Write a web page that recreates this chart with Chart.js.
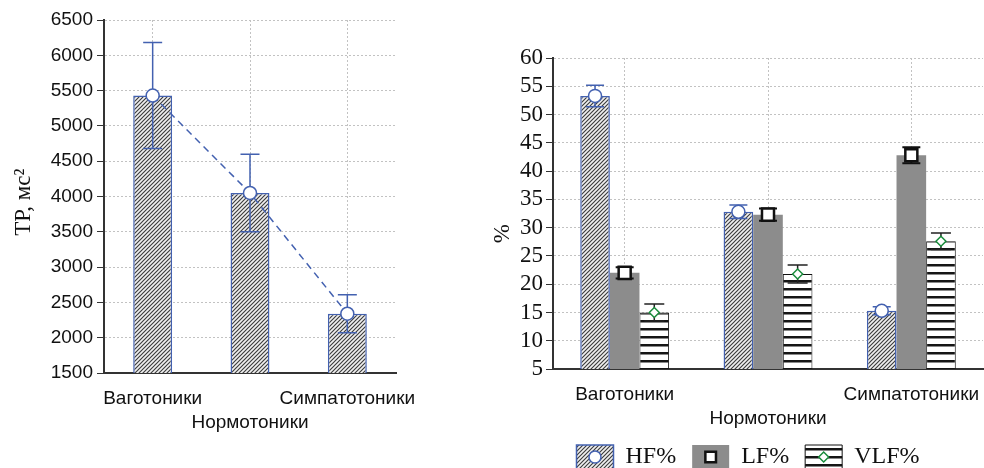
<!DOCTYPE html>
<html>
<head>
<meta charset="utf-8">
<script src="https://cdn.jsdelivr.net/npm/chart.js@4.4.0/dist/chart.umd.min.js"></script>
<style>
  html, body { margin: 0; padding: 0; background: #fff; overflow: hidden; width: 984px; height: 468px; }
  canvas { position: absolute; top: 0; }
  #tpChart { left: 0; }
  #pctChart { left: 440px; }
</style>
</head>
<body>
<canvas id="tpChart" width="440" height="468"></canvas>
<canvas id="pctChart" width="616" height="468"></canvas>
<script>
// groups and values
const groups = ['Ваготоники', 'Нормотоники', 'Симпатотоники'];
const tpMean = [5430, 4050, 2340];
const tpErr = [750, 550, 270];
const hfMean = [53.3, 32.8, 15.3];
const hfErr = [1.9, 1.2, 0.7];
const lfMean = [22.0, 32.3, 42.8];
const lfErr = [1.0, 1.1, 1.4];
const vlfMean = [15.0, 21.8, 27.6];
const vlfErr = [1.5, 1.6, 1.45];
const tpRange = [1500, 6500, 500];
const pctRange = [5, 60, 5];

// every second label goes on a second line
const xLabels = groups.map((g, i) => i % 2 ? ['', g] : [g, '']);

const BLUE = '#4361b0';
const GRID = '#c2c2c2';
const AXIS = '#333';
const sans = "'Liberation Sans', Arial, sans-serif";
const serif = "'Liberation Serif', 'Times New Roman', serif";

function hatch(ctx) {
  const c = document.createElement('canvas');
  c.width = 4; c.height = 4;
  const g = c.getContext('2d');
  g.fillStyle = '#f0f0f0';
  g.fillRect(0, 0, 4, 4);
  g.strokeStyle = '#3c3c3c';
  g.lineWidth = 1.15;
  g.beginPath();
  g.moveTo(0, 4); g.lineTo(4, 0);
  g.moveTo(-1, 1); g.lineTo(1, -1);
  g.moveTo(3, 5); g.lineTo(5, 3);
  g.stroke();
  return ctx.createPattern(c, 'repeat');
}

function stripes(ctx) {
  const c = document.createElement('canvas');
  c.width = 8; c.height = 8;
  const g = c.getContext('2d');
  g.fillStyle = '#fff';
  g.fillRect(0, 0, 8, 8);
  g.fillStyle = '#151515';
  g.fillRect(0, 0, 8, 2.5);
  return ctx.createPattern(c, 'repeat');
}

function mark(ctx, m, x, y) {
  ctx.fillStyle = '#fff';
  ctx.strokeStyle = m.color;
  ctx.lineWidth = m.width;
  ctx.setLineDash([]);
  Chart.helpers.drawPoint(ctx, { pointStyle: m.style, radius: m.r, rotation: 0, borderWidth: m.width }, x, y);
}

// error bars (and optional marker) drawn right after their bar dataset
const errorMarks = {
  id: 'errorMarks',
  afterDatasetDraw(chart, args) {
    const ds = chart.data.datasets[args.index];
    if (!ds.errors) return;
    const ctx = chart.ctx, y = chart.scales.y;
    ctx.save();
    args.meta.data.forEach((bar, j) => {
      const v = ds.data[j], e = ds.errors[j];
      const yt = y.getPixelForValue(v + e), yb = y.getPixelForValue(v - e);
      ctx.strokeStyle = ds.errColor;
      ctx.lineWidth = ds.errWidth;
      ctx.setLineDash([]);
      ctx.beginPath();
      ctx.moveTo(bar.x, yt); ctx.lineTo(bar.x, yb);
      ctx.moveTo(bar.x - ds.cap, yt); ctx.lineTo(bar.x + ds.cap, yt);
      ctx.moveTo(bar.x - ds.cap, yb); ctx.lineTo(bar.x + ds.cap, yb);
      ctx.stroke();
      if (ds.mark) mark(ctx, ds.mark, bar.x, y.getPixelForValue(v));
    });
    ctx.restore();
  }
};

// symbol in the middle of each legend box
const legendMarks = {
  id: 'legendMarks',
  afterDraw(chart) {
    const lg = chart.legend;
    if (!lg || !lg.legendHitBoxes) return;
    const ctx = chart.ctx, bw = lg.options.labels.boxWidth;
    ctx.save();
    lg.legendItems.forEach((item, i) => {
      const ds = chart.data.datasets[item.datasetIndex];
      const hb = lg.legendHitBoxes[i];
      const m = Object.assign({}, ds.mark, { r: ds.mark.legendR });
      mark(ctx, m, hb.left + bw / 2, hb.top + hb.height / 2);
    });
    ctx.restore();
  }
};

// ---- left: ТР
const tpCtx = document.getElementById('tpChart').getContext('2d');
new Chart(tpCtx, {
  type: 'bar',
  data: {
    labels: xLabels,
    datasets: [{
      type: 'bar',
      data: tpMean,
      errors: tpErr,
      errColor: BLUE,
      errWidth: 1.5,
      cap: 9.5,
      backgroundColor: hatch(tpCtx),
      borderColor: BLUE,
      borderWidth: 1.5,
      categoryPercentage: 0.4,
      barPercentage: 1,
      order: 2
    }, {
      type: 'line',
      data: tpMean,
      borderColor: BLUE,
      borderWidth: 1.5,
      borderDash: [7, 5],
      pointStyle: 'circle',
      pointRadius: 6.5,
      pointBackgroundColor: '#fff',
      pointBorderColor: BLUE,
      pointBorderWidth: 1.5,
      order: 1
    }]
  },
  options: {
    responsive: false,
    animation: false,
    layout: { padding: { top: 20, right: 44, bottom: 0, left: 0 } },
    plugins: { legend: { display: false }, tooltip: { enabled: false } },
    scales: {
      x: {
        offset: true,
        grid: { offset: false, color: GRID, drawTicks: false },
        border: { color: AXIS, width: 2, dash: [2, 2] },
        ticks: { font: { family: sans, size: 19, lineHeight: 1.3 }, color: '#111', padding: 13,
                 maxRotation: 0, minRotation: 0, autoSkip: false },
        afterFit: s => { s.height = 95; }
      },
      y: {
        min: tpRange[0],
        max: tpRange[1],
        ticks: { stepSize: tpRange[2], font: { family: sans, size: 19 }, color: '#111', padding: 4,
                 autoSkip: false, callback: v => String(v) },
        grid: { color: GRID, tickColor: AXIS, tickLength: 7, tickBorderDash: [] },
        border: { color: AXIS, width: 2, dash: [2, 2] },
        title: { display: true, text: 'ТР, мс²\u00a0\u00a0', font: { family: serif, size: 23 }, color: '#111',
                 padding: { top: 10, bottom: 0 } },
        afterFit: s => { s.width = 104; }
      }
    }
  },
  plugins: [errorMarks]
});

// ---- right: HF / LF / VLF
const pctCtx = document.getElementById('pctChart').getContext('2d');
new Chart(pctCtx, {
  type: 'bar',
  data: {
    labels: xLabels,
    datasets: [{
      label: 'HF%',
      data: hfMean,
      errors: hfErr,
      errColor: BLUE,
      errWidth: 1.5,
      cap: 9,
      mark: { style: 'circle', r: 6.5, legendR: 6, color: BLUE, width: 1.5 },
      backgroundColor: hatch(pctCtx),
      borderColor: BLUE,
      borderWidth: 1.5
    }, {
      label: 'LF%',
      data: lfMean,
      errors: lfErr,
      errColor: '#111',
      errWidth: 2,
      cap: 9,
      mark: { style: 'rect', r: 8.5, legendR: 7.5, color: '#111', width: 2.5 },
      backgroundColor: '#8c8c8c',
      borderWidth: 0
    }, {
      label: 'VLF%',
      data: vlfMean,
      errors: vlfErr,
      errColor: '#222',
      errWidth: 1.5,
      cap: 10,
      mark: { style: 'rectRot', r: 5, legendR: 5, color: '#1a8c3c', width: 1.5 },
      backgroundColor: stripes(pctCtx),
      borderColor: '#111',
      borderWidth: 1
    }]
  },
  options: {
    responsive: false,
    animation: false,
    categoryPercentage: 0.62,
    barPercentage: 1,
    layout: { padding: { top: 58, right: 0, bottom: -11, left: 0 } },
    plugins: {
      tooltip: { enabled: false },
      legend: {
        position: 'bottom',
        labels: { boxWidth: 37, boxHeight: 24, padding: 16, color: '#111',
                  font: { family: serif, size: 24 } }
      }
    },
    scales: {
      x: {
        offset: true,
        grid: { offset: false, color: GRID, drawTicks: false },
        border: { color: AXIS, width: 2, dash: [2, 2] },
        ticks: { font: { family: sans, size: 19, lineHeight: 1.3 }, color: '#111', padding: 13,
                 maxRotation: 0, minRotation: 0, autoSkip: false },
        afterFit: s => { s.height = 60; }
      },
      y: {
        min: pctRange[0],
        max: pctRange[1],
        ticks: { stepSize: pctRange[2], font: { family: serif, size: 23 }, color: '#111', padding: 3,
                 autoSkip: false },
        grid: { color: GRID, tickColor: AXIS, tickLength: 7, tickBorderDash: [] },
        border: { color: AXIS, width: 2, dash: [2, 2] },
        title: { display: true, text: '%\u00a0\u00a0\u00a0\u00a0\u00a0\u00a0\u00a0', font: { family: serif, size: 23 },
                 color: '#111', padding: { top: 49, bottom: 0 } },
        afterFit: s => { s.width = 113; }
      },
      pad: {
        type: 'linear',
        position: 'right',
        ticks: { display: false },
        grid: { display: false },
        border: { display: false },
        afterFit: s => { s.width = 73; }
      }
    }
  },
  plugins: [errorMarks, legendMarks]
});
</script>
</body>
</html>
